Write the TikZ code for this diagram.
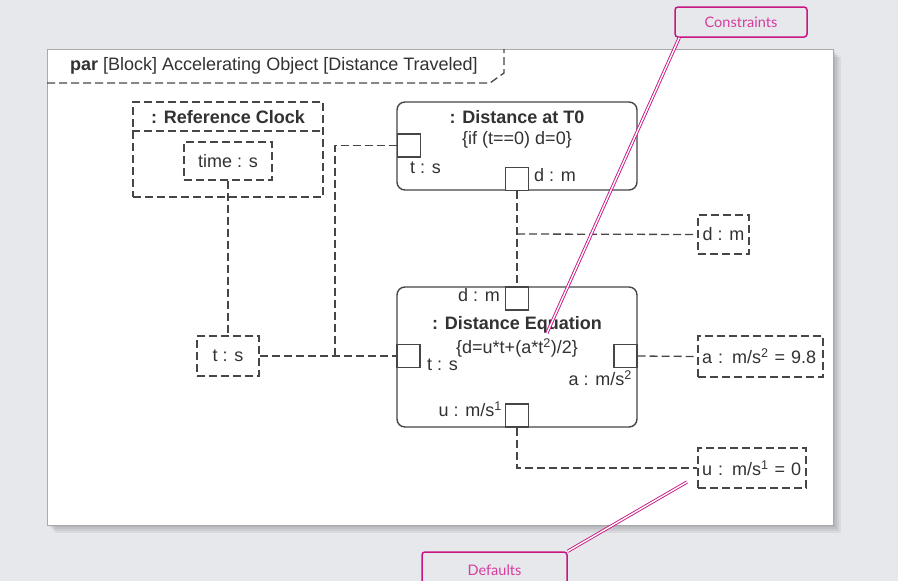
\documentclass[tikz,border=0pt]{standalone}
\usepackage{fontspec}
\setmainfont{Liberation Sans}
\newfontfamily\calloutfont{Lato}
\usepackage{tikz}

\definecolor{bggray}{RGB}{230,232,235}
\definecolor{framegray}{RGB}{170,170,170}
\definecolor{linegray}{RGB}{70,70,70}
\definecolor{txtgray}{RGB}{50,50,50}
\definecolor{pinkline}{RGB}{200,22,130}
\definecolor{pinktext}{RGB}{215,60,160}

\tikzset{
  txt/.style={inner sep=0pt, text=txtgray, font=\fontsize{18}{21}\selectfont},
  boldtxt/.style={txt, font=\fontsize{18}{21}\selectfont\bfseries},
  dashline/.style={draw=linegray, line width=1.3pt, dash pattern=on 8pt off 4pt},
  propbox/.style={dashline, txt, inner xsep=4pt},
  block/.style={draw=linegray, line width=1.4pt, rounded corners=8pt, inner sep=0pt, minimum width=240pt},
  port/.style={draw=linegray, line width=1.4pt, fill=white, inner sep=0pt, minimum size=23pt},
  callout/.style={draw=pinkline, line width=1.5pt, rounded corners=3pt, inner sep=0pt,
    text=pinktext, font=\calloutfont\fontsize{14.5}{16}\selectfont},
  leader/.style={draw=pinkline, line width=0.9pt, double=white, double distance=1.4pt},
}

\begin{document}
\begin{tikzpicture}[x=1pt,y=-1pt]
  \useasboundingbox (0,0) rectangle (898,581);
  \clip (0,0) rectangle (898,581);
  \fill[bggray] (0,0) rectangle (898,581);

  % frame with shadow
  \foreach \s in {2,4,6,8}
    \fill[black, opacity=0.06] (47+\s,49+\s) rectangle (833+\s,525+\s);
  \node[draw=framegray, line width=0.8pt, fill=white, inner sep=0pt,
        minimum width=786pt, minimum height=476pt] (frame) at (440,287) {};
  \draw[dashline] (47,83) -- (490,83) -- (504,73) -- (504,49);
  \node[txt, anchor=mid west] (heading) at (70,68) {\textbf{par} [Block] Accelerating Object [Distance Traveled]};

  % reference clock
  \node[dashline, inner sep=0pt, minimum width=190pt, minimum height=95pt] (clock) at (228,149.5) {};
  \draw[dashline] (clock.west |- 0,131) -- (clock.east |- 0,131);
  \node[boldtxt] (clockname) at (228,117) {: Reference Clock};
  \node[propbox, minimum width=88pt, minimum height=38pt] (timeS) at (228,161) {time : s};

  \node[propbox, minimum width=62pt, minimum height=40pt] (tS) at (228,356) {t : s};

  % distance at T0
  \node[block, minimum height=88pt] (tzero) at (517,146) {};
  \node[boldtxt] (tzeroname) at (517,117) {: Distance at T0};
  \node[txt] (tzerorule) at (517,140) {\{if (t==0) d=0\}};
  \node[port] (tzeroT) at (409,145.5) {};
  \node[port] (tzeroD) at (517,179) {};
  \node[txt, anchor=mid west] (tzeroTlbl) at (410,171) {t : s};
  \node[txt, anchor=mid west] (tzeroDlbl) at (534,179) {d : m};

  % distance equation
  \node[block, minimum height=140pt] (deq) at (517,357) {};
  \node[boldtxt] (deqname) at (517,325) {: Distance Equation};
  \node[txt] (deqrule) at (517,348) {\{d=u*t+(a*t\textsuperscript{2})/2\}};
  \node[port] (deqD) at (517,298.5) {};
  \node[port] (deqT) at (408.5,356) {};
  \node[port] (deqA) at (625.5,356) {};
  \node[port] (deqU) at (517,415.5) {};
  \node[txt, anchor=mid east] (deqDlbl) at (500,299) {d : m};
  \node[txt, anchor=mid west] (deqTlbl) at (427,368) {t : s};
  \node[txt, anchor=mid east] (deqAlbl) at (632,383) {a : m/s\textsuperscript{2}};
  \node[txt, anchor=mid east] (deqUlbl) at (502,414) {u : m/s\textsuperscript{1}};

  % values
  \node[propbox, inner xsep=0pt, minimum width=51pt, minimum height=39pt] (dBox) at (723.5,234.5) {d : m};
  \node[propbox, align=left, text width=117pt, minimum height=41pt] (aBox) at (760.5,356.5) {a : m/s\textsuperscript{2} = 9.8};
  \node[propbox, align=left, text width=100pt, minimum height=40pt] (uBox) at (752,468) {u : m/s\textsuperscript{1} = 0};

  % connectors
  \coordinate (tjoin) at (335,356);
  \coordinate (dsplit) at (517,234);
  \draw[dashline] (timeS.south) -- (tS.north);
  \draw[dashline] (tS.east) -- (deqT.west);
  \draw[dashline] (tzeroT.west) -| (tjoin);
  \draw[dashline] (tzeroD.south) -- (deqD.north);
  \draw[dashline] (dsplit) -- (dBox.west);
  \draw[dashline] (deqA.east) -- (aBox.west);
  \draw[dashline] (deqU.south) |- (uBox.west);

  % callouts
  \node[callout, minimum width=132pt, minimum height=30pt] (constraints) at (741,22) {Constraints};
  \node[callout, minimum width=145pt, minimum height=36pt] (defaults) at (494.5,570) {Defaults};
  \coordinate (ctip) at (547,333);
  \coordinate (dtip) at (687,482);
  \draw[leader] ([xshift=5pt]constraints.south west) -- (ctip);
  \draw[leader] (defaults.north east) -- (dtip);
\end{tikzpicture}
\end{document}
